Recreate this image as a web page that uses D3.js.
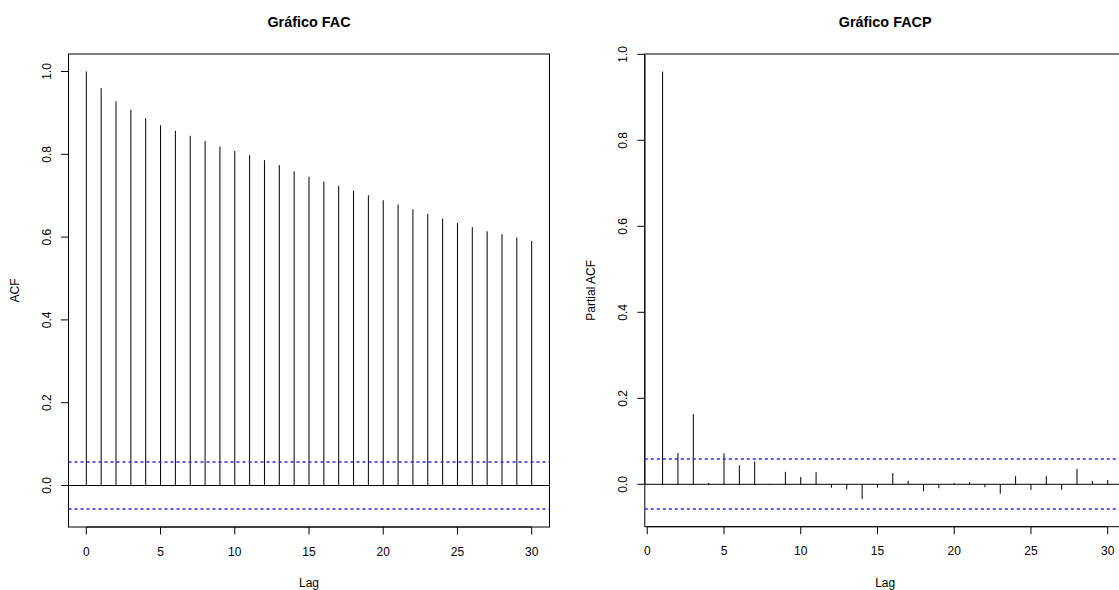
<!DOCTYPE html>
<html>
<head>
<meta charset="utf-8">
<script src="https://cdn.jsdelivr.net/npm/d3@7/dist/d3.min.js"></script>
<style>
  html, body { margin: 0; padding: 0; background: #ffffff; }
  svg { display: block; font-family: "Liberation Sans", Arial, Helvetica, sans-serif; }
</style>
</head>
<body>
<svg id="chart" width="1119" height="590"></svg>
<script>
// Sample autocorrelation (lags 0..30)
const acfLags = d3.range(0, 31);
const acfValues = [
  1.000, 0.960, 0.928, 0.908, 0.887, 0.870, 0.857, 0.845, 0.832, 0.819,
  0.808, 0.798, 0.786, 0.774, 0.759, 0.746, 0.734, 0.724, 0.712, 0.701,
  0.689, 0.679, 0.667, 0.656, 0.645, 0.634, 0.624, 0.614, 0.607, 0.599,
  0.591
];

// Sample partial autocorrelation (lags 1..30)
const pacfLags = d3.range(1, 31);
const pacfValues = [
  0.960, 0.073, 0.163, 0.003, 0.072, 0.044, 0.053, -0.002, 0.029, 0.017,
  0.028, -0.008, -0.012, -0.034, -0.008, 0.026, 0.008, -0.016, -0.009, 0.003,
  0.005, -0.007, -0.022, 0.019, -0.013, 0.019, -0.013, 0.036, 0.008, 0.010
];

// 95% white-noise confidence bound (±1.96/sqrt(n))
const confBound = 0.0579;

const xTicks = [0, 5, 10, 15, 20, 25, 30];
const yTicks = [0, 0.2, 0.4, 0.6, 0.8, 1.0];

const panels = [
  { title: "Gráfico FAC", ylab: "ACF", lags: acfLags, values: acfValues,
    left: 68.5, right: 549.5, top: 54, bottom: 527, tickLabelX: 51, ylabX: 18.5 },
  { title: "Gráfico FACP", ylab: "Partial ACF", lags: pacfLags, values: pacfValues,
    left: 644.8, right: 1125.5, top: 54, bottom: 526.7, tickLabelX: 626.7, ylabX: 595 }
];

const svg = d3.select("#chart");
const fmt = d3.format(".1f");

// R-style 4% range extension
function extend(lo, hi) {
  const pad = (hi - lo) * 0.04;
  return [lo - pad, hi + pad];
}

panels.forEach(p => {
  const g = svg.append("g");
  const xExt = d3.extent(p.lags);
  const yLo = Math.min(-confBound, d3.min(p.values));
  const yHi = Math.max(confBound, d3.max(p.values));

  const x = d3.scaleLinear().domain(extend(xExt[0], xExt[1])).range([p.left, p.right]);
  const y = d3.scaleLinear().domain(extend(yLo, yHi)).range([p.bottom, p.top]);

  // x axis (ticks outward, line spans first..last tick)
  const xAxis = g.append("g").attr("transform", `translate(0,${p.bottom})`);
  xAxis.append("line")
    .attr("x1", x(xTicks[0])).attr("x2", x(xTicks[xTicks.length - 1]))
    .attr("y1", 0).attr("y2", 0).attr("stroke", "#000");
  xAxis.selectAll("line.tick").data(xTicks).join("line")
    .attr("class", "tick")
    .attr("x1", d => x(d)).attr("x2", d => x(d))
    .attr("y1", 0).attr("y2", 7.5).attr("stroke", "#000");
  xAxis.selectAll("text").data(xTicks).join("text")
    .attr("x", d => x(d)).attr("y", 28.5)
    .attr("text-anchor", "middle").attr("font-size", 12).attr("fill", "#000")
    .text(d => d);

  // y axis
  const yAxis = g.append("g").attr("transform", `translate(${p.left},0)`);
  yAxis.append("line")
    .attr("x1", 0).attr("x2", 0)
    .attr("y1", y(yTicks[0])).attr("y2", y(yTicks[yTicks.length - 1]))
    .attr("stroke", "#000");
  yAxis.selectAll("line.tick").data(yTicks).join("line")
    .attr("class", "tick")
    .attr("x1", 0).attr("x2", -7.5)
    .attr("y1", d => y(d)).attr("y2", d => y(d)).attr("stroke", "#000");
  g.selectAll("text.ytick").data(yTicks).join("text")
    .attr("class", "ytick")
    .attr("transform", d => `translate(${p.tickLabelX},${y(d)}) rotate(-90)`)
    .attr("text-anchor", "middle").attr("font-size", 12).attr("fill", "#000")
    .text(d => fmt(d));

  // plot box
  g.append("rect")
    .attr("x", p.left).attr("y", p.top)
    .attr("width", p.right - p.left).attr("height", p.bottom - p.top)
    .attr("fill", "none").attr("stroke", "#000");

  // zero line
  g.append("line")
    .attr("x1", p.left).attr("x2", p.right)
    .attr("y1", y(0)).attr("y2", y(0)).attr("stroke", "#000");

  // stems
  g.selectAll("line.stem").data(p.lags.map((l, i) => [l, p.values[i]])).join("line")
    .attr("class", "stem")
    .attr("x1", d => x(d[0])).attr("x2", d => x(d[0]))
    .attr("y1", y(0)).attr("y2", d => y(d[1]))
    .attr("stroke", "#000").attr("stroke-width", 1);

  // confidence bounds
  g.selectAll("line.ci").data([confBound, -confBound]).join("line")
    .attr("class", "ci")
    .attr("x1", p.left).attr("x2", p.right)
    .attr("y1", d => Math.round(y(d))).attr("y2", d => Math.round(y(d)))
    .attr("stroke", "#2a2aff").attr("stroke-width", 1.4)
    .attr("stroke-dasharray", "3,3");

  // titles and labels
  const cx = (p.left + p.right) / 2;
  g.append("text")
    .attr("x", cx).attr("y", 27)
    .attr("text-anchor", "middle").attr("font-size", 14.4).attr("font-weight", "bold")
    .attr("fill", "#000").text(p.title);
  g.append("text")
    .attr("x", cx).attr("y", 586.5)
    .attr("text-anchor", "middle").attr("font-size", 12).attr("fill", "#000")
    .text("Lag");
  g.append("text")
    .attr("transform", `translate(${p.ylabX},${(p.top + p.bottom) / 2}) rotate(-90)`)
    .attr("text-anchor", "middle").attr("font-size", 12).attr("fill", "#000")
    .text(p.ylab);
});
</script>
</body>
</html>
